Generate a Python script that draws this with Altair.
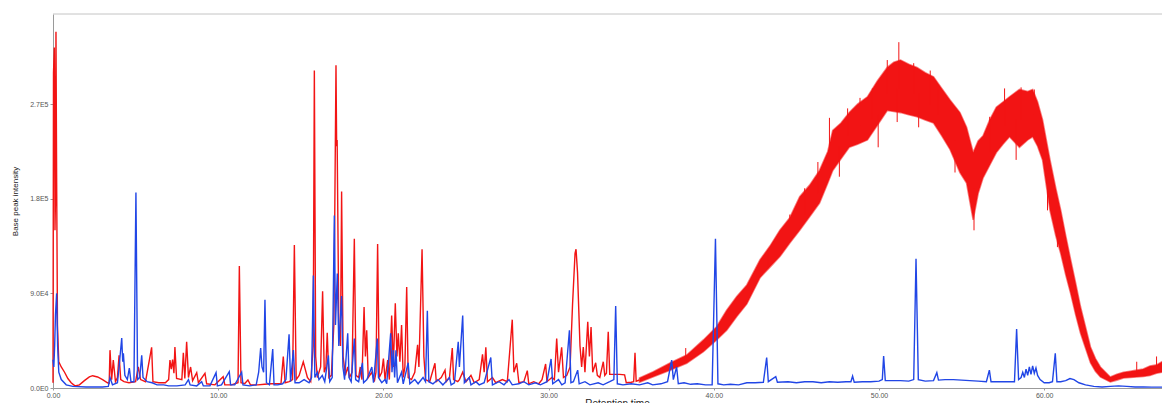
import altair as alt
import pandas as pd

# ---------------- data (intensities in thousands of counts, time in minutes) ----------------
red_time = [0.0, 0.03, 0.08, 0.12, 0.15, 0.18, 0.22, 0.27, 0.35, 0.5, 0.7, 0.9, 1.1, 1.33, 1.6, 1.9, 2.2, 2.4, 2.7, 3.0, 3.3, 3.4,
            3.45, 3.55, 3.65, 3.78, 3.9, 4.0, 4.1, 4.3, 4.6, 5.0, 5.16, 5.3, 5.6, 5.97, 6.05, 6.4, 6.8, 7.0, 7.08, 7.16, 7.24, 7.32,
            7.38, 7.48, 7.8, 7.89, 7.98, 8.09, 8.2, 8.33, 8.45, 8.7, 8.8, 9.2, 9.3, 9.8, 10.3, 10.4, 10.8, 11.2, 11.28, 11.38, 11.6,
            11.8, 11.95, 12.4, 12.8, 13.2, 13.5,
            13.8, 13.94, 14.05, 14.3, 14.5, 14.61, 14.72, 14.9, 15.15, 15.4, 15.6, 15.75, 15.82, 15.9, 16.0, 16.2, 16.32, 16.42,
            16.52, 16.6, 16.7, 16.85, 17.0, 17.13, 17.17, 17.2, 17.3, 17.4, 17.47, 17.56, 17.7, 17.84, 17.95, 18.1, 18.24, 18.34,
            18.5, 18.6, 18.7, 18.83, 18.91, 18.99, 19.08, 19.3, 19.45, 19.55, 19.65, 19.75, 19.9, 20.0, 20.1, 20.26, 20.36, 20.5,
            20.6, 20.72, 20.82, 20.9, 21.0, 21.1, 21.2, 21.3, 21.41, 21.5, 21.7, 21.9, 22.07, 22.15, 22.34, 22.45, 22.55, 22.8,
            23.12, 23.2, 23.5, 23.73, 23.8, 24.0, 24.17, 24.25, 24.5,
            24.6, 24.8, 25.0, 25.3, 25.5, 25.8, 26.0, 26.1, 26.2, 26.3, 26.6, 26.8, 27.2, 27.5, 27.8, 27.9, 28.07, 28.2, 28.5,
            28.71, 28.8, 29.1, 29.4, 29.6, 29.82, 29.9, 30.2, 30.35, 30.49, 30.6, 30.79, 30.9, 31.1, 31.3, 31.45, 31.6, 31.66,
            31.75, 31.9, 32.0, 32.1, 32.2, 32.37, 32.47, 32.57, 32.67, 32.85, 32.95, 33.1, 33.31, 33.4, 33.5, 33.61, 33.7, 34.0,
            34.3, 34.6, 34.7, 35.0, 35.15, 35.23, 35.3, 35.5]
red_k = [5, 300, 324, 150, 180, 339, 200, 60, 25, 20, 15, 9, 5, 2, 3, 7, 10.5, 11.7, 10.5, 8, 5, 4.5,
         36, 8, 26.6, 6, 10, 31, 8, 6, 5, 6, 20, 8, 6, 38.7, 6, 5, 5, 8, 26.6, 18, 27, 14,
         39, 9, 8, 33.6, 9, 44, 10, 20, 7, 14.6, 5, 14, 4, 3, 10.8, 3, 3, 5, 116, 5, 4,
         7.6, 3, 3, 3.5, 4, 4,
         4, 30, 5, 6, 8, 136, 8, 12, 25, 10, 6, 40, 302, 30, 10, 20, 92, 15,
         20, 52.6, 10, 12, 60, 307, 230, 236, 60, 40, 187, 30, 12, 20, 10, 15, 142, 12,
         10, 20, 8, 77, 30, 55, 10, 15, 6, 15, 137, 10, 15, 28, 8, 26.6, 8, 69,
         20, 80.6, 30, 52, 25, 60, 10, 20, 96, 10, 8, 15, 41, 20, 132, 30, 8, 6,
         23.5, 6, 10, 17, 6, 10, 38, 8, 6,
         8, 15, 6, 12, 5, 8, 32, 15, 38.7, 6, 10, 5, 8, 6, 65, 15, 23.5, 5, 6,
         16.5, 4, 6, 4, 8, 22.8, 6, 10, 8, 47, 15, 38.7, 10, 12, 20, 80, 128, 132,
         110, 40, 20, 39, 15, 63, 30, 58, 15, 24, 12, 10, 25, 12, 14, 53.6, 13, 13,
         13, 12.5, 5, 5.5, 6, 33.6, 6.5, 7.6]

# noisy red hump: lower / upper envelope of the band
band_time = [35.5, 36.34, 37.35, 38.36, 39.37, 40.17, 40.78, 41.39, 42.0, 42.8, 43.4, 44.0, 44.6, 45.2, 45.8, 46.4,
             46.9, 47.2, 47.7, 48.2, 48.7, 49.3, 49.9, 50.5, 50.9, 51.3, 51.8, 52.3, 52.8, 53.3, 53.8, 54.3, 54.9,
             55.3, 55.7, 56.0, 56.3, 56.7, 57.1, 57.5, 57.9, 58.5, 59.0, 59.3, 59.6, 59.9, 60.35, 60.7, 61.0, 61.3,
             61.6, 61.9, 62.2, 62.5, 62.8, 63.1, 63.4, 64.0, 64.4, 64.8, 65.2, 65.6, 66.0, 66.4, 66.8, 67.13]
band_lo_k = [5.5, 10.8, 17, 23.5, 34.6, 45.7, 55, 68, 80, 105, 115, 125, 138, 150, 163, 176,
             195, 207, 218, 229, 232, 236, 250, 264, 263, 262, 260, 258, 255, 252, 240, 227, 205,
             195, 160, 185, 200, 212, 224, 232, 239, 229, 236, 239, 230, 217, 169, 145, 128, 108,
             90, 70, 52, 38, 24, 16, 10.5, 5.7, 7.5, 9.5, 10, 10.5, 11, 12, 14, 15]
band_hi_k = [9.5, 15.5, 23.7, 31.4, 45.7, 58.3, 74, 87, 98, 122, 135, 150, 162, 182, 193, 207,
             225, 245, 252, 262, 270, 277, 292, 305, 310, 312, 308, 305, 300, 296, 285, 274, 262,
             248, 224, 235, 240, 255, 267, 272, 277, 284, 282, 284, 272, 255, 217, 190, 169, 145,
             122, 100, 77, 58, 39, 28, 20, 10.5, 13, 15, 16, 17, 18, 21, 22, 25]

# isolated noise spikes sticking out of the band
spike_time = [38.3, 43.3, 44.6, 45.5, 46.3, 47.0, 47.6, 48.1, 48.85, 49.6, 49.95, 50.5, 51.1, 51.2, 52.1, 52.4,
              53.1, 53.6, 54.6, 55.75, 56.7, 57.6, 58.3, 58.6, 59.4, 60.2, 60.8, 65.6, 66.8]
spike_lo_k = [28, 115, 140, 165, 185, 225, 201, 240, 250, 255, 229, 280, 253, 285, 280, 248,
              270, 260, 205, 150, 225, 250, 217, 255, 260, 169, 134, 14, 15]
spike_hi_k = [38, 128, 165, 190, 215, 257, 230, 266, 276, 285, 260, 312, 285, 329, 309, 280,
              302, 284, 235, 190, 258, 285, 255, 286, 284, 200, 160, 25, 30]

blue_time = [0.0, 0.05, 0.1, 0.15, 0.22, 0.28, 0.35, 0.5, 0.8, 1.2, 2.0, 3.0, 3.35, 3.45, 3.6, 3.9, 4.0, 4.16, 4.22,
             4.26, 4.35, 4.5, 4.62, 4.72, 4.9, 5.02, 5.12, 5.25, 5.37, 5.45, 5.7, 6.0, 6.3, 6.7, 7.0, 7.5, 8.0, 8.2, 8.3,
             8.7, 9.0, 9.1, 9.5, 9.87, 9.95, 10.2, 10.67, 10.75, 11.0, 11.42, 11.5, 11.9, 12.3, 12.45, 12.57, 12.65,
             12.75, 12.83, 12.92, 13.1, 13.3, 13.38, 13.6, 13.9, 14.1, 14.29, 14.38, 14.55, 14.65, 14.9, 15.2, 15.5,
             15.65, 15.76, 15.85, 16.0, 16.1, 16.3, 16.45, 16.67, 16.75, 16.9, 17.03, 17.1, 17.21, 17.3, 17.47, 17.55,
             17.65, 17.84, 17.92, 18.05, 18.24, 18.32, 18.5, 18.73, 18.8, 19.0, 19.3, 19.4, 19.63, 19.7, 19.9, 20.1,
             20.2, 20.44, 20.52, 20.6, 20.68, 20.76, 20.85, 21.1, 21.2, 21.5, 21.6, 21.9, 22.1, 22.4, 22.55, 22.66,
             22.75, 23.0, 23.3, 23.6, 24.0, 24.1, 24.3, 24.53, 24.6, 24.8, 24.9, 25.2, 25.3, 25.6, 25.8, 26.1, 26.5,
             26.6, 27.0, 27.3, 27.6, 27.8, 28.2, 28.5, 28.8, 29.2, 29.5, 29.9, 30.15, 30.25, 30.6, 30.8, 31.0, 31.26,
             31.35, 31.5, 31.76, 31.85, 32.2, 32.5, 33.0, 33.3, 33.7, 33.95, 34.06, 34.16, 34.5, 35.0, 35.5, 36.0,
             36.3, 36.8, 37.2, 37.45, 37.55, 37.75, 37.85, 38.2, 38.6, 39.0, 39.5, 39.9, 40.1, 40.25, 40.6, 41.0,
             41.5, 42.0, 42.5, 43.0, 43.2, 43.3, 43.75, 43.85, 44.5, 45.0, 45.5, 46.0, 46.5, 47.0, 47.5, 48.0, 48.3,
             48.4, 48.5, 49.0, 49.5, 50.0, 50.2, 50.28, 50.38, 50.8, 51.3, 51.8, 52.1, 52.24, 52.38, 52.8, 53.3, 53.5,
             53.6, 54.0, 54.5, 55.0, 55.5, 56.0, 56.5, 56.68, 56.78, 57.2, 57.8, 58.2, 58.33, 58.45, 58.6, 58.7,
             58.8, 58.9, 59.0, 59.1, 59.2, 59.3, 59.4, 59.5, 59.6, 59.75, 60.0, 60.3, 60.5, 60.67, 60.77, 61.0, 61.3,
             61.56, 61.8, 62.1, 62.5, 63.0, 63.5, 64.0, 64.5, 65.0, 65.5, 66.0, 66.5, 67.13]
blue_k = [27, 20, 40, 70, 90, 40, 15, 8, 3, 1.5, 1, 1, 1.5, 10, 3, 5, 20, 47.6, 25,
          33, 12, 8, 19, 6, 6, 186, 8, 10, 31, 10, 6, 5, 3, 3, 2, 2, 3, 8, 3,
          2, 6, 2, 2, 14.6, 2, 3, 15.5, 3, 3, 15, 3, 2, 3, 15, 38, 20,
          15, 84, 5, 3, 37, 3, 3, 4, 8, 51, 6, 36, 5, 5, 8, 5,
          10, 107, 10, 15, 8, 12, 6, 31, 6, 10, 164, 60, 109, 40, 87.5, 20,
          8, 52, 10, 6, 47, 8, 6, 24, 5, 8, 20, 5, 47, 10, 5, 8,
          4, 52, 15, 36, 10, 36, 5, 15, 4, 24, 4, 8, 4, 10, 6, 73.5,
          6, 4, 8, 3, 10, 3, 5, 44, 20, 69, 5, 10, 3, 6, 3, 5, 29,
          3, 6, 3, 8, 3, 4, 6, 3, 5, 3, 6, 27.6, 4, 8, 3, 5, 55,
          5, 6, 17, 4, 6, 3, 5, 3, 6, 8, 78, 4, 3, 4, 3, 5,
          3, 4, 6, 26.6, 8, 20, 4, 5, 3.5, 4, 3, 3, 142, 4, 3, 3.5,
          3, 5, 5, 5.5, 29, 6, 10.8, 5.5, 6, 5, 6, 6, 5, 6, 5.5, 6, 6,
          11.4, 5.5, 6, 6, 6.5, 8, 30.4, 7, 7, 7, 6.5, 8, 123, 8, 6.5, 7, 14.6,
          7.5, 8, 8, 7.5, 7, 6.5, 6, 17, 6, 6, 6, 6, 56, 8, 10, 15,
          10, 18, 12, 20, 13, 21, 14, 19, 12, 8, 5, 5, 6, 33, 6, 6, 7,
          9, 8, 5, 3, 1.5, 1, 1.5, 2, 1.5, 1, 1, 0.8, 0.8]

x_ticks = [0, 10, 20, 30, 40, 50, 60]
y_ticks = [0, 90000, 180000, 270000]
y_tick_labels = ["0.0E0", "9.0E4", "1.8E5", "2.7E5"]
x_domain = [0, 67.13]
y_domain = [0, 355800]

# ---------------- tables ----------------
K = 1000
red_df = pd.DataFrame({"t": red_time, "v": [k * K for k in red_k]})
blue_df = pd.DataFrame({"t": blue_time, "v": [k * K for k in blue_k]})
band_df = pd.DataFrame({"t": band_time, "lo": [k * K for k in band_lo_k], "hi": [k * K for k in band_hi_k]})
spike_df = pd.DataFrame({"t": spike_time, "lo": [k * K for k in spike_lo_k], "hi": [k * K for k in spike_hi_k]})

RED = "#f21414"
BLUE = "#2146e6"
FONT = "Liberation Sans"

label_expr = " : ".join(
    f"datum.value == {v} ? '{s}'" for v, s in zip(y_ticks, y_tick_labels)
) + " : ''"

x_scale = alt.Scale(domain=x_domain, nice=False, zero=False)
y_scale = alt.Scale(domain=y_domain, nice=False)

x_enc = alt.X(
    "t:Q", scale=x_scale,
    axis=alt.Axis(
        title="Retention time", values=x_ticks, format=".2f", grid=False, labelFlush=False,
        domainColor="#9a9a9a", tickColor="#9a9a9a", tickSize=2, labelPadding=1,
        labelFont=FONT, labelFontSize=7, labelColor="#555555",
        titleFont=FONT, titleFontSize=10, titleFontWeight="normal", titleColor="#222222",
        titleAlign="center", titleBaseline="top", titleX=564, titleY=10,
    ),
)
y_enc = alt.Y(
    "v:Q", scale=y_scale,
    axis=alt.Axis(
        title="Base peak intensity", values=y_ticks, labelExpr=label_expr, grid=False, labelFlush=False,
        domainColor="#9a9a9a", tickColor="#9a9a9a", tickSize=3, labelPadding=2,
        labelFont=FONT, labelFontSize=7, labelColor="#555555",
        titleFont=FONT, titleFontSize=8, titleFontWeight="normal", titleColor="#222222",
        titleAngle=270, titleAlign="center", titleBaseline="middle", titleX=-38, titleY=187,
    ),
)

border = alt.Chart(pd.DataFrame({"a": [x_domain[0]], "b": [x_domain[1]], "c": [y_domain[1]]})).mark_rule(
    color="#c4c4c4", strokeWidth=1
).encode(x=alt.X("a:Q", scale=x_scale), x2="b:Q", y=alt.Y("c:Q", scale=y_scale))

band = alt.Chart(band_df).mark_area(
    color=RED, opacity=1, stroke=RED, strokeWidth=1.6, strokeOpacity=0.55
).encode(
    x=alt.X("t:Q", scale=x_scale), y=alt.Y("lo:Q", scale=y_scale), y2="hi:Q"
)
spikes = alt.Chart(spike_df).mark_rule(color=RED, strokeWidth=1).encode(
    x=alt.X("t:Q", scale=x_scale), y=alt.Y("lo:Q", scale=y_scale), y2="hi:Q"
)
red_line = alt.Chart(red_df).mark_line(color=RED, strokeWidth=1.4).encode(x=x_enc, y=y_enc)
blue_line = alt.Chart(blue_df).mark_line(color=BLUE, strokeWidth=1.4).encode(
    x=alt.X("t:Q", scale=x_scale), y=alt.Y("v:Q", scale=y_scale)
)

chart = (
    alt.layer(red_line, band, spikes, blue_line, border)
    .properties(
        width=1109, height=374,
        autosize=alt.AutoSizeParams(type="none"),
        padding={"left": 45, "top": 6, "right": 0, "bottom": 15},
        background="white",
    )
    .configure_view(strokeWidth=0)
)

chart.save("out.html", embed_options={"renderer": "svg", "actions": False})
